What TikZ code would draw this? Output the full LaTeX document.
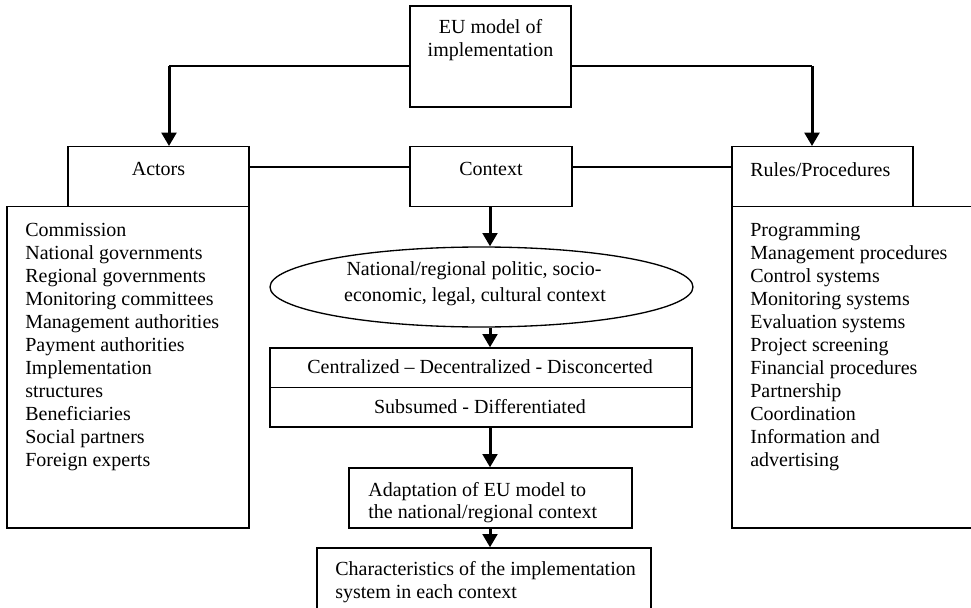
\documentclass[tikz,border=0pt]{standalone}
\usepackage{fontspec}
\setmainfont{Liberation Serif}
\usetikzlibrary{arrows.meta,fit,shapes.geometric}
\begin{document}
\begin{tikzpicture}[x=0.6pt,y=-0.6pt,
  every node/.style={font=\fontsize{12}{13.8}\selectfont},
  box/.style={draw,line width=0.8pt,inner sep=0pt,rectangle},
  txt/.style={inner sep=0pt},
  thinline/.style={line width=0.8pt},
  arr/.style={line width=1.8pt,-{Triangle[width=8.8pt,length=8pt]}}]
\useasboundingbox (0,0) rectangle (971,608);
% corner coordinates
\coordinate (eu1) at (410,6);     \coordinate (eu2) at (571,107);
\coordinate (ac1) at (68,146.7);  \coordinate (ac2) at (249,206.7);
\coordinate (al1) at (7,206.7);   \coordinate (al2) at (249,528);
\coordinate (co1) at (410,146.7); \coordinate (co2) at (572,206.7);
\coordinate (ru1) at (732,146.7); \coordinate (ru2) at (913,206.7);
\coordinate (rl1) at (732,206.7); \coordinate (rl2) at (980,528);
\coordinate (ce1) at (270,348);   \coordinate (ce2) at (692,387.5);
\coordinate (su1) at (270,387.5); \coordinate (su2) at (692,427);
\coordinate (ad1) at (349,468);   \coordinate (ad2) at (632,528);
\coordinate (ch1) at (317,548);   \coordinate (ch2) at (651,625);
% boxes
\node[box,fit=(eu1)(eu2)] (eu) {};
\node[box,fit=(ac1)(ac2)] (actors) {};
\node[box,fit=(al1)(al2)] (alist) {};
\node[box,fit=(co1)(co2)] (context) {};
\node[box,fit=(ru1)(ru2)] (rules) {};
\node[box,fit=(rl1)(rl2)] (rlist) {};
\node[draw,line width=0.8pt,ellipse,inner sep=0pt,minimum width=253.8pt,minimum height=48pt] (ell) at (481.5,287) {};
\node[box,fit=(ce1)(ce2)] (cen) {};
\node[box,fit=(su1)(su2)] (sub) {};
\node[box,fit=(ad1)(ad2)] (adapt) {};
\node[box,fit=(ch1)(ch2)] (charb) {};
% texts
\node[txt,anchor=base] (t1) at (490.5,34) {EU model of};
\node[txt,anchor=base] (t2) at (490.5,57) {implementation};
\node[txt,anchor=base] (t3) at (158.5,175) {Actors};
\node[txt,anchor=base] (t4) at (491,175) {Context};
\node[txt,anchor=base west] (t5) at (750,176) {Rules/Procedures};
\foreach \t [count=\i] in {Commission,National governments,Regional governments,Monitoring committees,Management authorities,Payment authorities,Implementation,structures,Beneficiaries,Social partners,Foreign experts}
  \node[txt,anchor=base west] (al\i) at (25,{236+(\i-1)*23}) {\t};
\foreach \t [count=\i] in {Programming,Management procedures,Control systems,Monitoring systems,Evaluation systems,Project screening,Financial procedures,Partnership,Coordination,Information and,advertising}
  \node[txt,anchor=base west] (rl\i) at (750,{236+(\i-1)*23}) {\t};
\node[txt,anchor=base] (e1) at (474,275) {National/regional politic, socio-};
\node[txt,anchor=base] (e2) at (475,301) {economic, legal, cultural context};
\node[txt,anchor=base] (c1) at (480,373) {Centralized -- Decentralized - Disconcerted};
\node[txt,anchor=base] (s1) at (480,413) {Subsumed - Differentiated};
\node[txt,anchor=base west] (a1) at (368,496) {Adaptation of EU model to};
\node[txt,anchor=base west] (a2) at (368,518) {the national/regional context};
\node[txt,anchor=base west] (h1t) at (335,575) {Characteristics of the implementation};
\node[txt,anchor=base west] (h2t) at (335,598) {system in each context};
% connectors
\coordinate (eul) at (410,66);
\coordinate (cl) at (169,66);
\coordinate (eur) at (571,66);
\coordinate (cr) at (812,66);
\coordinate (hl) at (249,167);
\coordinate (mx) at (490,0);
\draw[thinline] (eul) -- (cl);
\draw[arr] (cl) -- (cl |- actors.north);
\draw[thinline] (eur) -- (cr);
\draw[arr] (cr) -- (cr |- rules.north);
\draw[thinline] (hl) -- (hl -| context.west);
\draw[thinline] (context.east |- hl) -- (rules.west |- hl);
\draw[arr] (mx |- context.south) -- (mx |- ell.north);
\draw[arr] (mx |- ell.south) -- (mx |- cen.north);
\draw[arr] (mx |- sub.south) -- (mx |- adapt.north);
\draw[arr] (mx |- adapt.south) -- (mx |- charb.north);
\end{tikzpicture}
\end{document}
